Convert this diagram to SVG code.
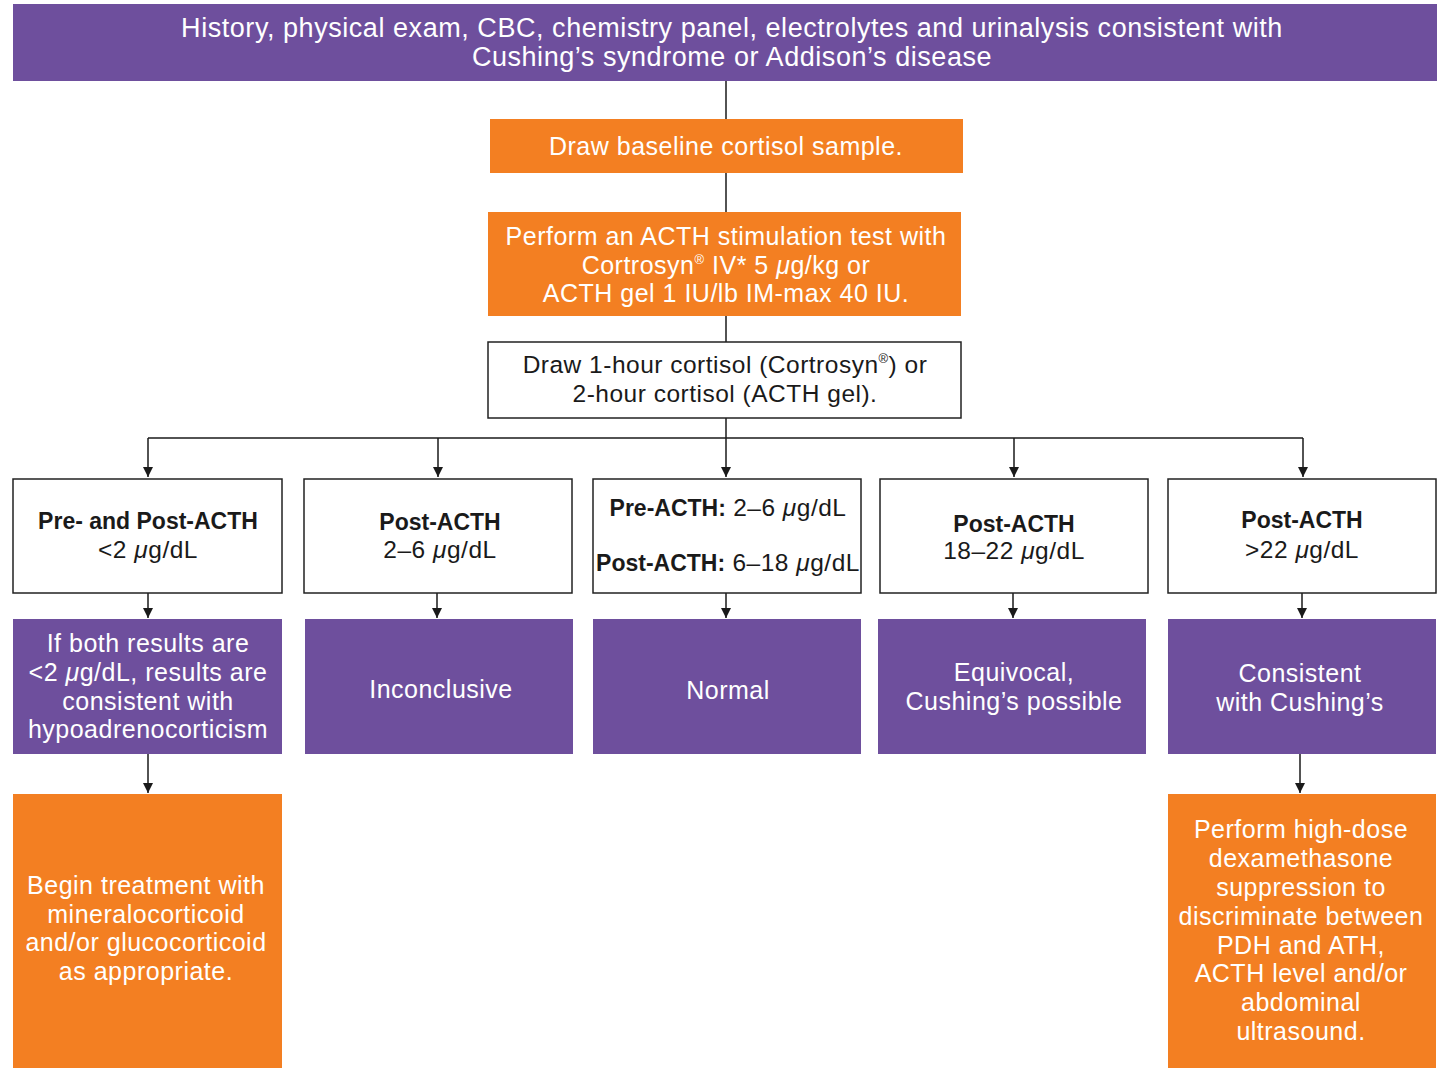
<svg xmlns="http://www.w3.org/2000/svg" width="1442" height="1068" viewBox="0 0 1442 1068">
<style>
.p{fill:#6e4f9d}
.o{fill:#f37f22}
.w{fill:#fff;stroke:#222;stroke-width:1.5}
text{font-family:"Liberation Sans",Arial,sans-serif;text-anchor:middle}
.tw{fill:#fff;font-size:25px;letter-spacing:0.5px}
.tt{fill:#fff;font-size:27px;letter-spacing:0.55px}
.tk{fill:#1a1a1a;font-size:24.5px;letter-spacing:0.5px}
.b{font-weight:bold;font-size:23px;letter-spacing:0}
.i{font-style:italic}
.c line,.c path{stroke:#1a1a1a;stroke-width:1.5;fill:none}
</style>
<defs>
<marker id="ar" viewBox="0 0 10 10" refX="10" refY="5" markerWidth="10" markerHeight="10" markerUnits="userSpaceOnUse" orient="auto">
<path d="M0,0 L10,5 L0,10 z" fill="#1a1a1a"/>
</marker>
</defs>
<rect width="1442" height="1068" fill="#fff"/>
<g class="c" id="connectors">
<line x1="726" y1="81" x2="726" y2="119"/>
<line x1="726" y1="173" x2="726" y2="212"/>
<line x1="726" y1="316" x2="726" y2="342"/>
<line x1="726" y1="418" x2="726" y2="438"/>
<line x1="148" y1="438" x2="1303" y2="438"/>
<line x1="148" y1="438" x2="148" y2="477" marker-end="url(#ar)"/>
<line x1="438" y1="438" x2="438" y2="477" marker-end="url(#ar)"/>
<line x1="726" y1="438" x2="726" y2="477" marker-end="url(#ar)"/>
<line x1="1014" y1="438" x2="1014" y2="477" marker-end="url(#ar)"/>
<line x1="1303" y1="438" x2="1303" y2="477" marker-end="url(#ar)"/>
<line x1="148" y1="593" x2="148" y2="618" marker-end="url(#ar)"/>
<line x1="437" y1="593" x2="437" y2="618" marker-end="url(#ar)"/>
<line x1="726" y1="593" x2="726" y2="618" marker-end="url(#ar)"/>
<line x1="1013" y1="593" x2="1013" y2="618" marker-end="url(#ar)"/>
<line x1="1302" y1="593" x2="1302" y2="618" marker-end="url(#ar)"/>
<line x1="148" y1="754" x2="148" y2="793" marker-end="url(#ar)"/>
<line x1="1300" y1="754" x2="1300" y2="793" marker-end="url(#ar)"/>
</g>
<g id="top">
<rect class="p" x="13" y="4" width="1424" height="77"/>
<text class="tt" x="732" y="37">History, physical exam, CBC, chemistry panel, electrolytes and urinalysis consistent with</text>
<text class="tt" x="732" y="66">Cushing’s syndrome or Addison’s disease</text>
</g>
<g id="baseline">
<rect class="o" x="490" y="119" width="473" height="54"/>
<text class="tw" x="726" y="155">Draw baseline cortisol sample.</text>
</g>
<g id="stim">
<rect class="o" x="488" y="212" width="473" height="104"/>
<text class="tw" x="726" y="245">Perform an ACTH stimulation test with</text>
<text class="tw" x="726" y="274">Cortrosyn<tspan font-size="13" dy="-10">®</tspan><tspan dy="10"> IV* 5 </tspan><tspan class="i">μ</tspan>g/kg or</text>
<text class="tw" x="726" y="302">ACTH gel 1 IU/lb IM-max 40 IU.</text>
</g>
<g id="draw">
<rect class="w" x="488" y="342" width="473" height="76"/>
<text class="tk" x="725" y="373">Draw 1-hour cortisol (Cortrosyn<tspan font-size="13" dy="-10">®</tspan><tspan dy="10">) or</tspan></text>
<text class="tk" x="725" y="402">2-hour cortisol (ACTH gel).</text>
</g>
<g id="r1">
<rect class="w" x="13" y="479" width="269" height="114"/>
<text class="tk b" x="148" y="529">Pre- and Post-ACTH</text>
<text class="tk" x="148" y="558">&lt;2 <tspan class="i">μ</tspan>g/dL</text>
</g>
<g id="r2">
<rect class="w" x="304" y="479" width="268" height="114"/>
<text class="tk b" x="440" y="530">Post-ACTH</text>
<text class="tk" x="440" y="558">2–6 <tspan class="i">μ</tspan>g/dL</text>
</g>
<g id="r3">
<rect class="w" x="593" y="479" width="268" height="114"/>
<text class="tk" x="728" y="516"><tspan class="b">Pre-ACTH:</tspan> 2–6 <tspan class="i">μ</tspan>g/dL</text>
<text class="tk" x="728" y="571"><tspan class="b">Post-ACTH:</tspan> 6–18 <tspan class="i">μ</tspan>g/dL</text>
</g>
<g id="r4">
<rect class="w" x="880" y="479" width="268" height="114"/>
<text class="tk b" x="1014" y="532">Post-ACTH</text>
<text class="tk" x="1014" y="559">18–22 <tspan class="i">μ</tspan>g/dL</text>
</g>
<g id="r5">
<rect class="w" x="1168" y="479" width="268" height="114"/>
<text class="tk b" x="1302" y="528">Post-ACTH</text>
<text class="tk" x="1302" y="558">&gt;22 <tspan class="i">μ</tspan>g/dL</text>
</g>
<g id="p1">
<rect class="p" x="13" y="619" width="269" height="135"/>
<text class="tw" x="148" y="652">If both results are</text>
<text class="tw" x="148" y="681">&lt;2 <tspan class="i">μ</tspan>g/dL, results are</text>
<text class="tw" x="148" y="710">consistent with</text>
<text class="tw" x="148" y="738">hypoadrenocorticism</text>
</g>
<g id="p2">
<rect class="p" x="305" y="619" width="268" height="135"/>
<text class="tw" x="441" y="698">Inconclusive</text>
</g>
<g id="p3">
<rect class="p" x="593" y="619" width="268" height="135"/>
<text class="tw" x="728" y="699">Normal</text>
</g>
<g id="p4">
<rect class="p" x="878" y="619" width="268" height="135"/>
<text class="tw" x="1014" y="681">Equivocal,</text>
<text class="tw" x="1014" y="710">Cushing’s possible</text>
</g>
<g id="p5">
<rect class="p" x="1168" y="619" width="268" height="135"/>
<text class="tw" x="1300" y="682">Consistent</text>
<text class="tw" x="1300" y="711">with Cushing’s</text>
</g>
<g id="o1">
<rect class="o" x="13" y="794" width="269" height="274"/>
<text class="tw" x="146" y="894">Begin treatment with</text>
<text class="tw" x="146" y="923">mineralocorticoid</text>
<text class="tw" x="146" y="951">and/or glucocorticoid</text>
<text class="tw" x="146" y="980">as appropriate.</text>
</g>
<g id="o2">
<rect class="o" x="1168" y="794" width="268" height="274"/>
<text class="tw" x="1301" y="838">Perform high-dose</text>
<text class="tw" x="1301" y="867">dexamethasone</text>
<text class="tw" x="1301" y="896">suppression to</text>
<text class="tw" x="1301" y="925">discriminate between</text>
<text class="tw" x="1301" y="954">PDH and ATH,</text>
<text class="tw" x="1301" y="982">ACTH level and/or</text>
<text class="tw" x="1301" y="1011">abdominal</text>
<text class="tw" x="1301" y="1040">ultrasound.</text>
</g>
</svg>
